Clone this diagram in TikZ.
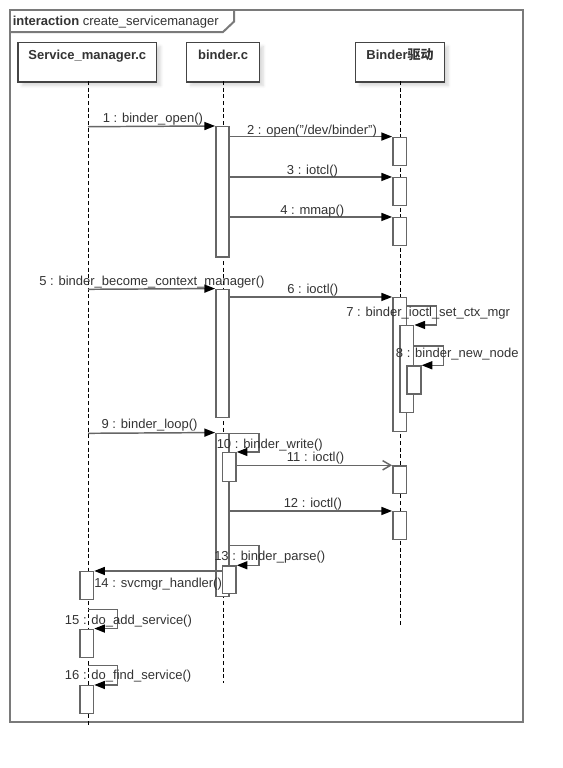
\documentclass[tikz,border=0pt]{standalone}
\usepackage{fontspec}
\setmainfont{Liberation Sans}
\newfontfamily\cjk{Noto Sans CJK SC}
\usetikzlibrary{arrows.meta,fit,shadows.blur}
\definecolor{ln}{HTML}{666666}
\definecolor{tx}{HTML}{333333}
\definecolor{fr}{HTML}{7a7a7a}
\definecolor{hd}{HTML}{444444}
\tikzset{
  lbl/.style={font=\fontsize{9.75}{12}\selectfont, text=tx, inner sep=0pt},
  headbox/.style={draw=hd, line width=1.1pt, fill=white, inner sep=0pt, anchor=north west,
     font=\fontsize{9.75}{12}\selectfont\bfseries, text=tx,
     blur shadow={shadow xshift=3pt, shadow yshift=-3pt, shadow blur steps=6, shadow opacity=15}},
  actb/.style={draw=ln, line width=1.1pt, fill=white, inner sep=0pt},
  life/.style={draw=black, line width=0.75pt, dash pattern=on 3pt off 2pt},
  msg/.style={draw=ln, line width=1.1pt, -{Triangle[length=8pt,width=6pt,color=black]}},
  amsg/.style={draw=ln, line width=1.1pt, -{Straight Barb[length=6pt,width=7pt,color=ln]}},
  framel/.style={draw=fr, line width=1.5pt}
}
\newcommand\actbox[5]{\node[actb, fit={(#2,#4)(#3,#5)}] (#1) {};}
\begin{document}
\begin{tikzpicture}[x=0.75pt,y=-0.75pt]
\useasboundingbox (0,0) rectangle (562,768);
% frame
\draw[framel] (10,10) rectangle (523,721.7);
\draw[framel] (10,32) -- (223,32) -- (234,21.6) -- (234,10);
\node[lbl, anchor=base west] (title) at (12.5,25.5) {\textbf{interaction} create\_servicemanager};
% heads
\node[headbox, minimum width=103.9pt, text height=12.6pt, text depth=16.9pt] (smh) at (17.3,41.7) {Service\_manager.c};
\node[headbox, minimum width=54.5pt, text height=12.6pt, text depth=16.9pt] (bch) at (186,41.7) {binder.c};
\node[headbox, minimum width=66.4pt, text height=12.6pt, text depth=16.9pt] (drh) at (355,41.7) {Binder{\cjk\bfseries 驱动}};
% lifelines
\coordinate (sms) at (88,81);
\coordinate (sme) at (88,726.7);
\coordinate (bcs) at (223.5,81);
\coordinate (bce) at (223.5,682.7);
\coordinate (drs) at (400.5,81);
\coordinate (dre) at (400.5,625);
\draw[life] (sms) -- (sme);
\draw[life] (bcs) -- (bce);
\draw[life] (drs) -- (dre);
% activations
\actbox{a1}{215.8}{228.8}{126.7}{257}
\actbox{d2}{392.8}{406.5}{137.3}{165.7}
\actbox{d3}{392.8}{406.5}{177.7}{205.7}
\actbox{d4}{392.8}{406.5}{217.7}{245.7}
\actbox{a5}{215.8}{228.8}{289.3}{417.3}
\actbox{d6}{392.8}{406.5}{297.7}{431.7}
\actbox{d7}{400}{413.7}{325.7}{412.7}
\actbox{d8}{407.2}{420.9}{366}{394}
\actbox{a9}{215.8}{228.8}{433.3}{596.7}
\actbox{a10}{222.3}{236}{452.7}{481.7}
\actbox{d11}{392.8}{406.5}{466}{493.7}
\actbox{d12}{392.8}{406.5}{511.7}{539.3}
\actbox{a13}{222.3}{236}{566}{593.3}
\actbox{s14}{80}{93.5}{571.7}{599.3}
\actbox{s15}{80}{93.5}{629.3}{657.7}
\actbox{s16}{80}{93.5}{685.7}{713.3}
% message points
\coordinate (m1s) at (88,126.7);
\coordinate (m5s) at (88,289.3);
\coordinate (m7r) at (436.3,306);
\coordinate (m8r) at (443.5,346);
\coordinate (m9s) at (88,433.3);
\coordinate (m10r) at (259,433.3);
\coordinate (m13r) at (259,545.7);
\coordinate (m15s) at (88,609.3);
\coordinate (m15r) at (117.3,609.3);
\coordinate (m16s) at (88,665.7);
\coordinate (m16r) at (117.3,665.7);
% messages
\draw[msg] (m1s) -- (a1.north west);
\draw[msg] (a1.east |- d2.north) -- (d2.north west);
\draw[msg] (a1.east |- d3.north) -- (d3.north west);
\draw[msg] (a1.east |- d4.north) -- (d4.north west);
\draw[msg] (m5s) -- (a5.north west);
\draw[msg] (a5.east |- d6.north) -- (d6.north west);
\draw[msg] (d6.east |- m7r) -- (m7r) |- (d7.north east);
\draw[msg] (d7.east |- m8r) -- (m8r) |- (d8.north east);
\draw[msg] (m9s) -- (a9.north west);
\draw[msg] (a9.east |- m10r) -- (m10r) |- (a10.north east);
\draw[amsg] (a10.east |- d11.north) -- (d11.north west);
\draw[msg] (a9.east |- d12.north) -- (d12.north west);
\draw[msg] (a9.east |- m13r) -- (m13r) |- (a13.north east);
\draw[msg] (a13.west |- s14.north) -- (s14.north east);
\draw[msg] (m15s) -- (m15r) |- (s15.north east);
\draw[msg] (m16s) -- (m16r) |- (s16.north east);
% labels
\node[lbl, anchor=base west] (l1) at (102.5,122) {1 : binder\_open()};
\node[lbl, anchor=base west] (l2) at (246.8,134) {2 : open("/dev/binder")};
\node[lbl, anchor=base west] (l3) at (286.7,174) {3 : iotcl()};
\node[lbl, anchor=base west] (l4) at (280,214.7) {4 : mmap()};
\node[lbl, anchor=base west] (l5) at (39,285.7) {5 : binder\_become\_context\_manager()};
\node[lbl, anchor=base west] (l6) at (287,293) {6 : ioctl()};
\node[lbl, anchor=base west] (l7) at (346,316) {7 : binder\_ioctl\_set\_ctx\_mgr};
\node[lbl, anchor=base west] (l8) at (395.7,357) {8 : binder\_new\_node};
\node[lbl, anchor=base west] (l9) at (101.4,428) {9 : binder\_loop()};
\node[lbl, anchor=base west] (l10) at (216.5,448) {10 : binder\_write()};
\node[lbl, anchor=base west] (l11) at (286.7,461.7) {11 : ioctl()};
\node[lbl, anchor=base west] (l12) at (283.5,507) {12 : ioctl()};
\node[lbl, anchor=base west] (l13) at (214,560.7) {13 : binder\_parse()};
\node[lbl, anchor=base west] (l14) at (94,587) {14 : svcmgr\_handler()};
\node[lbl, anchor=base west] (l15) at (64.7,624) {15 : do\_add\_service()};
\node[lbl, anchor=base west] (l16) at (64.7,679.7) {16 : do\_find\_service()};
\end{tikzpicture}
\end{document}
